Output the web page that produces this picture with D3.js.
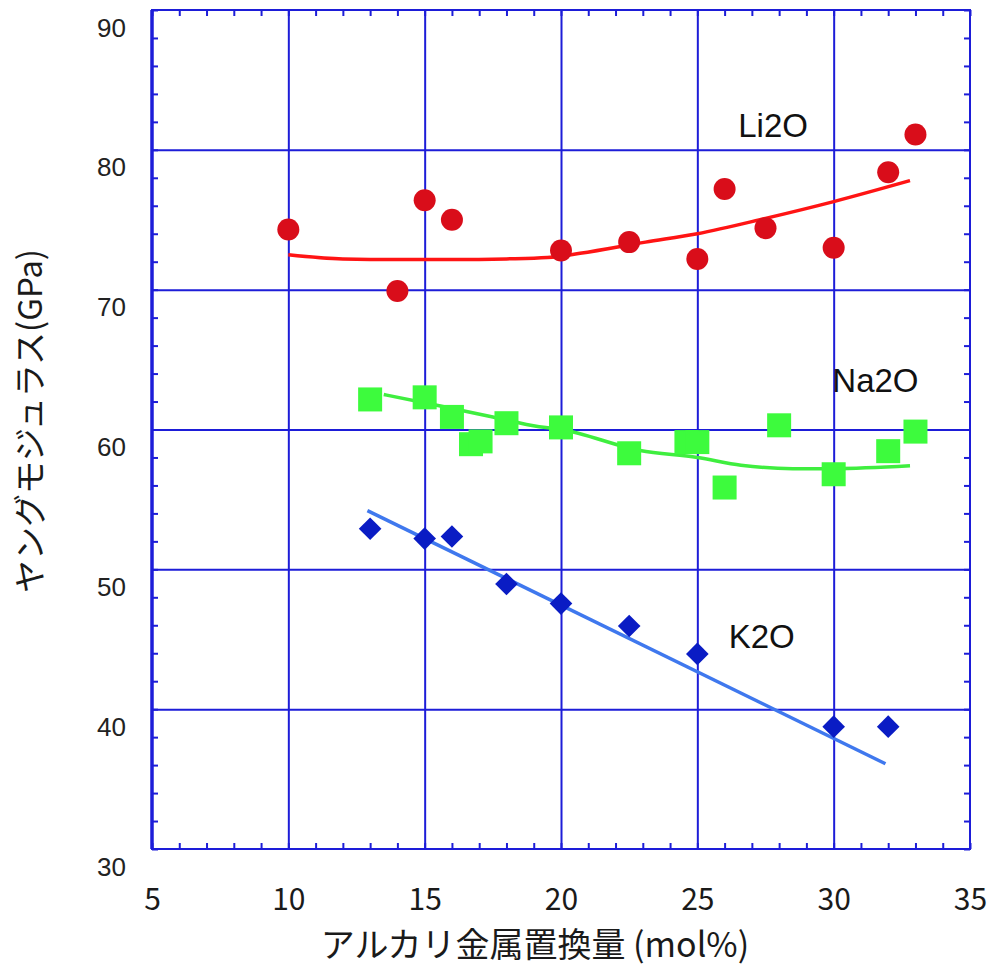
<!DOCTYPE html>
<html>
<head>
<meta charset="utf-8">
<script src="https://cdn.jsdelivr.net/npm/d3@7"></script>
<style>
body { margin: 0; background: #fff; }
</style>
</head>
<body>
<div></div>
<script>
const WIDTH = 991;
const HEIGHT = 970;
const LEFT = 152, RIGHT = 970, TOP = 10, BOTTOM = 849;
const GRID_BLUE = '#1d1dd8';

// axes
const xTicks = [5, 10, 15, 20, 25, 30, 35];
const yTicks = [30, 40, 50, 60, 70, 80, 90];

// Li2O (red circles) + fit
const liX = [10, 14, 15, 16, 20, 22.5, 25, 26, 27.5, 30, 32, 33];
const liY = [74.3, 69.9, 76.4, 75.0, 72.8, 73.4, 72.2, 77.2, 74.4, 73.0, 78.4, 81.1];
const liFitX = [10, 12, 14, 16, 18, 19.5, 20.7, 23.1, 25, 27.5, 30, 32.8];
const liFitY = [72.5, 72.2, 72.15, 72.15, 72.2, 72.3, 72.6, 73.4, 74.0, 75.1, 76.3, 77.8];

// Na2O (green squares) + fit
const naX = [13, 15, 16, 16.7, 17.05, 18, 20, 22.5, 24.6, 25, 26, 28, 30, 32, 33];
const naY = [62.15, 62.3, 60.9, 58.95, 59.15, 60.45, 60.15, 58.3, 59.1, 59.1, 55.85, 60.3, 56.8, 58.45, 59.85];
const naFitX = [13.5, 15.4, 17.5, 19.2, 20, 22.9, 25, 26.6, 28.5, 30, 32.8];
const naFitY = [62.5, 61.75, 60.9, 60.2, 60.0, 58.5, 58.0, 57.45, 57.2, 57.2, 57.4];

// K2O (blue diamonds) + fit
const kX = [13, 15, 16, 18, 20, 22.5, 25, 30, 32];
const kY = [52.9, 52.2, 52.35, 48.95, 47.55, 45.95, 43.95, 38.75, 38.75];
const kFitX = [12.9, 31.9];
const kFitY = [54.2, 36.1];

const div = d3.select('div');
const svg = div.append('svg')
    .attr('width', WIDTH)
    .attr('height', HEIGHT)
    .style('font-family', '"Liberation Sans", Arial, sans-serif');

const x = d3.scaleLinear().domain([5, 35]).range([LEFT, RIGHT]);
const y = d3.scaleLinear().domain([30, 90]).range([BOTTOM, TOP]);

// grid lines
svg.append('g')
    .attr('transform', 'translate(0,' + BOTTOM + ')')
    .call(d3.axisBottom(x).tickValues(xTicks.slice(1, -1)).tickSize(-(BOTTOM - TOP)).tickFormat(''))
    .call(g => g.select('.domain').remove())
    .call(g => g.selectAll('line').attr('stroke', GRID_BLUE).attr('stroke-width', 2));
svg.append('g')
    .attr('transform', 'translate(' + LEFT + ',0)')
    .call(d3.axisLeft(y).tickValues(yTicks.slice(1, -1)).tickSize(-(RIGHT - LEFT)).tickFormat(''))
    .call(g => g.select('.domain').remove())
    .call(g => g.selectAll('line').attr('stroke', GRID_BLUE).attr('stroke-width', 2));

// minor ticks (inside)
const xMinor = d3.range(5, 36, 1);
const yMinor = d3.range(30, 91, 2);
function styleMinor(g) {
    g.select('.domain').remove();
    g.selectAll('line').attr('stroke', GRID_BLUE).attr('stroke-width', 2);
}
svg.append('g').attr('transform', 'translate(0,' + BOTTOM + ')')
    .call(d3.axisBottom(x).tickValues(xMinor).tickSize(-6).tickFormat('')).call(styleMinor);
svg.append('g').attr('transform', 'translate(0,' + TOP + ')')
    .call(d3.axisTop(x).tickValues(xMinor).tickSize(-6).tickFormat('')).call(styleMinor);
svg.append('g').attr('transform', 'translate(' + LEFT + ',0)')
    .call(d3.axisLeft(y).tickValues(yMinor).tickSize(-6).tickFormat('')).call(styleMinor);
svg.append('g').attr('transform', 'translate(' + RIGHT + ',0)')
    .call(d3.axisRight(y).tickValues(yMinor).tickSize(-6).tickFormat('')).call(styleMinor);

// tick labels
svg.append('g')
    .attr('transform', 'translate(0,' + BOTTOM + ')')
    .call(d3.axisBottom(x).tickValues(xTicks).tickSize(0).tickPadding(40).tickFormat(d3.format('d')))
    .call(g => g.select('.domain').remove())
    .call(g => g.selectAll('text')
        .attr('fill', '#1a1a1a')
        .style('font-family', '"Noto Sans CJK JP", sans-serif')
        .style('font-size', '30px'));
svg.append('g')
    .attr('transform', 'translate(' + LEFT + ',0)')
    .call(d3.axisLeft(y).tickValues(yTicks).tickSize(0).tickPadding(26).tickFormat(d3.format('d')))
    .call(g => g.select('.domain').remove())
    .call(g => g.selectAll('text')
        .attr('fill', '#222')
        .attr('dy', '1.0em')
        .style('font-size', '26px'));

// fit lines
const fitLine = d3.line()
    .x(d => x(d[0]))
    .y(d => y(d[1]))
    .curve(d3.curveMonotoneX);
const fits = [
    { xs: liFitX, ys: liFitY, color: '#ff1414' },
    { xs: naFitX, ys: naFitY, color: '#3fee3f' },
    { xs: kFitX, ys: kFitY, color: '#3f78ee' }
];
fits.forEach(f => {
    svg.append('path')
        .datum(f.xs.map((v, i) => [v, f.ys[i]]))
        .attr('fill', 'none')
        .attr('stroke', f.color)
        .attr('stroke-width', 3.5)
        .attr('d', fitLine);
});

// markers
svg.append('g').selectAll('circle')
    .data(liX.map((v, i) => [v, liY[i]]))
    .join('circle')
    .attr('cx', d => x(d[0]))
    .attr('cy', d => y(d[1]))
    .attr('r', 11)
    .attr('fill', '#d90d1a');

const sq = 24;
svg.append('g').selectAll('rect')
    .data(naX.map((v, i) => [v, naY[i]]))
    .join('rect')
    .attr('x', d => x(d[0]) - sq / 2)
    .attr('y', d => y(d[1]) - sq / 2)
    .attr('width', sq)
    .attr('height', sq)
    .attr('fill', '#3dfb3d');

const diamond = d3.symbol().type(d3.symbolSquare).size(16 * 16);
svg.append('g').selectAll('path')
    .data(kX.map((v, i) => [v, kY[i]]))
    .join('path')
    .attr('d', diamond)
    .attr('transform', d => 'translate(' + x(d[0]) + ',' + y(d[1]) + ') rotate(45)')
    .attr('fill', '#0a1cc4');

// frame
svg.append('rect')
    .attr('x', LEFT)
    .attr('y', TOP)
    .attr('width', RIGHT - LEFT)
    .attr('height', BOTTOM - TOP)
    .attr('fill', 'none')
    .attr('stroke', GRID_BLUE)
    .attr('stroke-width', 2);
svg.append('line')
    .attr('x1', LEFT).attr('x2', LEFT)
    .attr('y1', TOP).attr('y2', BOTTOM)
    .attr('stroke', GRID_BLUE)
    .attr('stroke-width', 3.5);

// series labels
const seriesLabels = [
    { text: 'Li2O', at: [26.5, 80.9] },
    { text: 'Na2O', at: [29.95, 62.7] },
    { text: 'K2O', at: [26.15, 44.4] }
];
svg.append('g').selectAll('text')
    .data(seriesLabels)
    .join('text')
    .attr('x', d => x(d.at[0]))
    .attr('y', d => y(d.at[1]))
    .attr('fill', '#111')
    .style('font-size', '33px')
    .text(d => d.text);

// axis titles
svg.append('text')
    .attr('x', 535)
    .attr('y', 957)
    .attr('text-anchor', 'middle')
    .attr('fill', '#1a1a1a')
    .style('font-family', '"Noto Sans CJK JP", sans-serif')
    .style('font-size', '34px')
    .text('アルカリ金属置換量 (mol%)');
svg.append('text')
    .attr('transform', 'translate(42,421) rotate(-90)')
    .attr('text-anchor', 'middle')
    .attr('fill', '#1a1a1a')
    .style('font-family', '"Noto Sans CJK JP", sans-serif')
    .style('font-size', '33px')
    .text('ヤングモジュラス(GPa)');
</script>
</body>
</html>
